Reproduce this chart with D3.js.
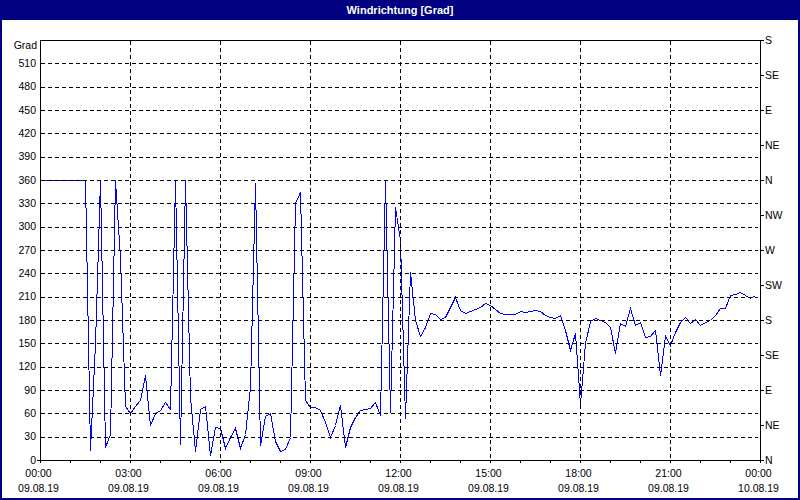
<!DOCTYPE html>
<html><head><meta charset="utf-8">
<script src="https://cdn.jsdelivr.net/npm/d3@7"></script>
<style>
body{margin:0;background:#fff}
svg{display:block}
text{font-family:"Liberation Sans",Arial,sans-serif;font-size:10.5px;fill:#000}
</style>
</head><body>
<svg id="c" width="800" height="500"></svg>
<script>
const title = "Windrichtung [Grad]";
const yUnit = "Grad";
const startTime = new Date(2019, 7, 9, 0, 0);
const endTime = new Date(2019, 7, 10, 0, 0);
const stepMinutes = 10;
const values = [
 360,360,360,360,360,360,360,360,360,360,
 13,150,360,17,34,360,260,69,60,69,
 77,109,45,60,64,74,66,360,20,360,
 81,11,66,69,6,43,41,15,30,41,
 15,34,94,356,19,56,60,24,11,14,
 30,330,344,77,68,68,64,49,30,45,
 71,17,43,55,64,66,67,74,58,360,
 62,325,283,54,242,180,159,171,189,188,
 181,184,197,209,193,189,191,194,197,202,
 199,194,189,188,188,188,191,190,191,193,
 192,186,184,182,186,167,141,163,72,150,
 179,182,180,178,171,137,176,172,196,174,
 177,158,159,167,109,159,148,165,178,184,
 176,181,174,178,180,186,196,196,212,214,
 216,212,208,212
];
const leftTicks = [0,30,60,90,120,150,180,210,240,270,300,330,360,390,420,450,480,510];
const rightTicks = [0,45,90,135,180,225,270,315,360,405,450,495,540];
const rightLabels = ["N","NE","E","SE","S","SW","W","NW","N","NE","E","SE","S"];
const xTickHours = [0,3,6,9,12,15,18,21,24];
const xTickTimes = ["00:00","03:00","06:00","09:00","12:00","15:00","18:00","21:00","00:00"];
const xTickDates = ["09.08.19","09.08.19","09.08.19","09.08.19","09.08.19","09.08.19","09.08.19","09.08.19","10.08.19"];

const svg = d3.select("#c");
const L = 40, R = 760, T = 40, B = 460;
const x = d3.scaleTime().domain([startTime, endTime]).range([L, R]);
const y = d3.scaleLinear().domain([0, 540]).range([B, T]);
const px = v => Math.round(v) + 0.5;
const hourDate = h => new Date(startTime.getTime() + h * 3600000);

svg.append("rect").attr("width", 800).attr("height", 500).attr("fill", "#fff");

// data line
const data = values.map((v, i) => ({t: new Date(startTime.getTime() + i * stepMinutes * 60000), v}));
svg.append("path").datum(data)
  .attr("d", d3.line().x(d => px(x(d.t))).y(d => px(y(d.v))))
  .attr("fill", "none").attr("stroke", "#0000ff").attr("stroke-width", 1)
  .attr("shape-rendering", "crispEdges");

// horizontal grid
svg.append("g").selectAll("line").data(leftTicks.filter(d => d > 0)).join("line")
  .attr("x1", L + 1).attr("x2", R - 2)
  .attr("y1", d => px(y(d))).attr("y2", d => px(y(d)))
  .attr("stroke", "#000").attr("stroke-dasharray", "4,3").attr("shape-rendering", "crispEdges");
// vertical grid
svg.append("g").selectAll("line").data(xTickHours.filter(h => h > 0 && h < 24)).join("line")
  .attr("x1", h => px(x(hourDate(h)))).attr("x2", h => px(x(hourDate(h))))
  .attr("y1", T + 1).attr("y2", B)
  .attr("stroke", "#000").attr("stroke-dasharray", "4,3").attr("shape-rendering", "crispEdges");

// frame
const fr = svg.append("g").attr("stroke", "#000").attr("shape-rendering", "crispEdges");
fr.append("line").attr("x1", L).attr("x2", R + 1).attr("y1", px(T)).attr("y2", px(T));
fr.append("line").attr("x1", L - 3).attr("x2", R + 1).attr("y1", px(B)).attr("y2", px(B));
fr.append("line").attr("x1", px(L)).attr("x2", px(L)).attr("y1", T).attr("y2", B + 1);
fr.append("line").attr("x1", px(R)).attr("x2", px(R)).attr("y1", T).attr("y2", B + 1);

// bottom hourly ticks (outward)
fr.selectAll("line.ht").data(d3.range(0, 25)).join("line").attr("class", "ht")
  .attr("x1", h => px(x(hourDate(h)))).attr("x2", h => px(x(hourDate(h))))
  .attr("y1", B).attr("y2", B + 3);
// right ticks
fr.selectAll("line.rt").data(rightTicks).join("line").attr("class", "rt")
  .attr("x1", R).attr("x2", R + 4)
  .attr("y1", d => px(y(d))).attr("y2", d => px(y(d)));

// left labels
svg.append("g").selectAll("text").data(leftTicks).join("text")
  .attr("x", 36).attr("y", d => y(d)).attr("dy", "0.35em").attr("text-anchor", "end")
  .text(d => d);
svg.append("text").attr("x", 37).attr("y", 45).attr("dy", "0.35em").attr("text-anchor", "end").text(yUnit);

// right labels
svg.append("g").selectAll("text").data(rightTicks).join("text")
  .attr("x", 765).attr("y", d => y(d)).attr("dy", "0.35em")
  .text((d, i) => rightLabels[i]);

// bottom labels
const bl = svg.append("g").selectAll("g").data(xTickHours).join("g");
bl.append("text").attr("x", h => x(hourDate(h)) - 1.5).attr("y", 477).attr("text-anchor", "middle").text((h, i) => xTickTimes[i]);
bl.append("text").attr("x", h => x(hourDate(h)) - 1.5).attr("y", 492).attr("text-anchor", "middle").text((h, i) => xTickDates[i]);

// title bar and window border
svg.append("rect").attr("x", 0).attr("y", 0).attr("width", 800).attr("height", 20).attr("fill", "#000080");
svg.append("text").attr("x", 400).attr("y", 14).attr("text-anchor", "middle")
  .style("fill", "#fff").style("font-weight", "bold").style("font-size", "11px").text(title);
svg.append("rect").attr("x", 1).attr("y", 1).attr("width", 798).attr("height", 498)
  .attr("fill", "none").attr("stroke", "#000080").attr("stroke-width", 2);
</script>
</body></html>
